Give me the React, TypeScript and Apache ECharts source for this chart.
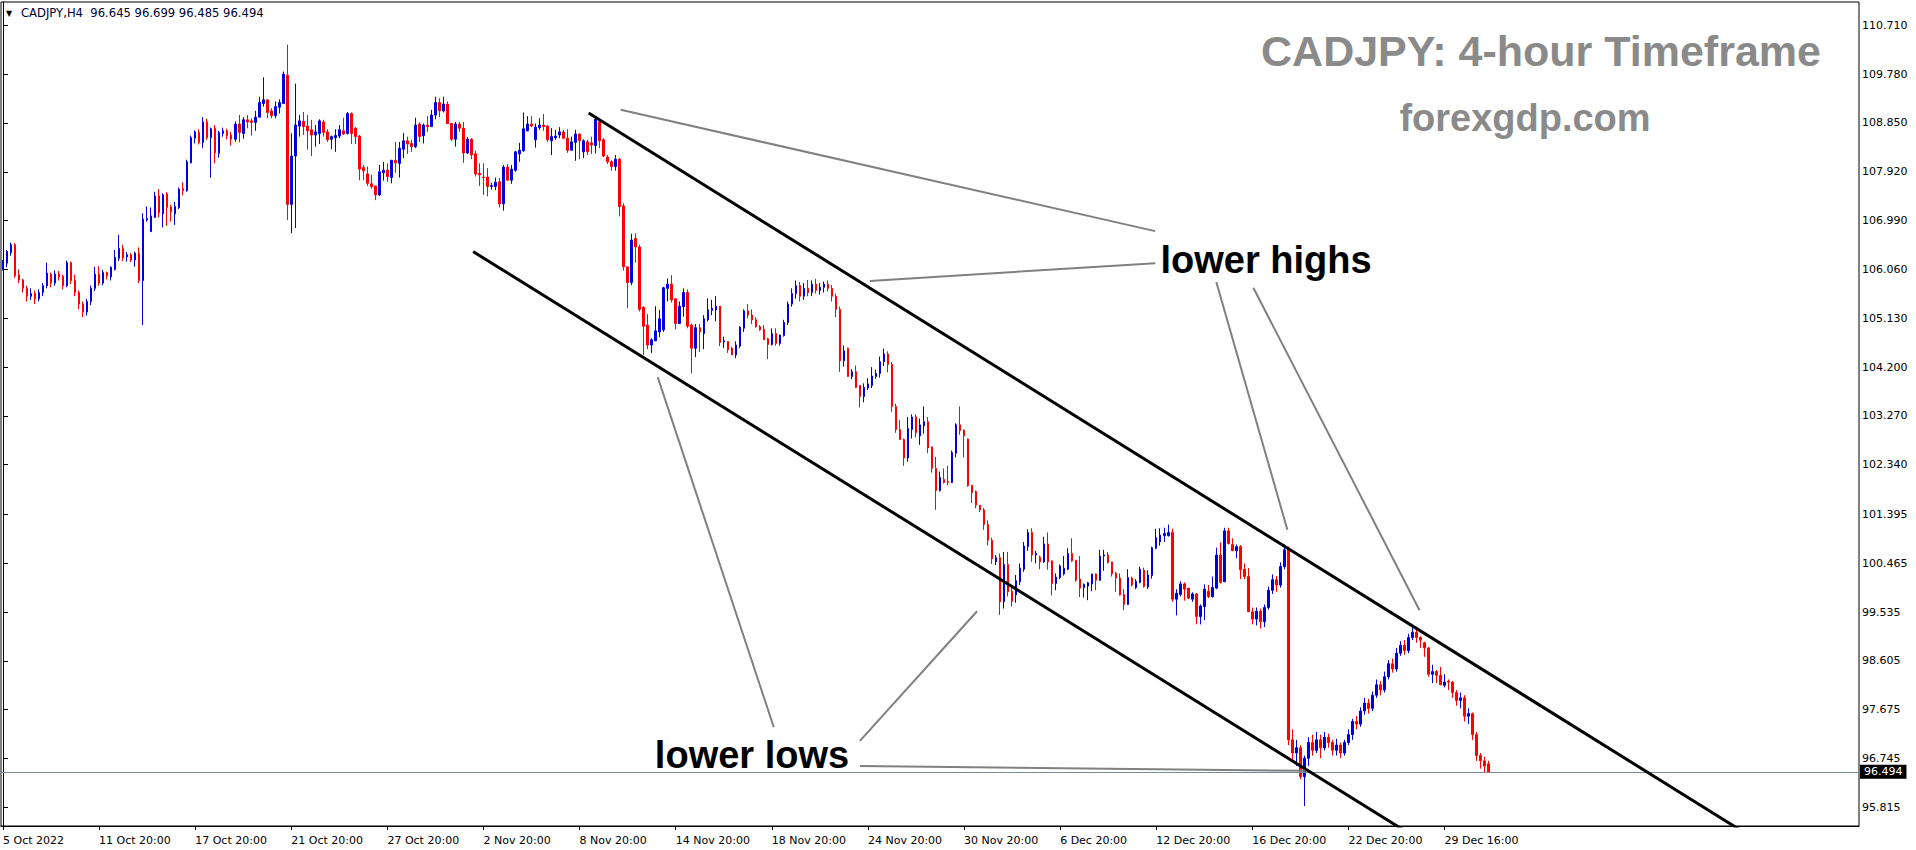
import React, { useEffect, useRef } from "react";
import * as echarts from "echarts";

// ---------- data ----------
const xTickLabels = [
  "5 Oct 2022", "11 Oct 20:00", "17 Oct 20:00", "21 Oct 20:00", "27 Oct 20:00",
  "2 Nov 20:00", "8 Nov 20:00", "14 Nov 20:00", "18 Nov 20:00", "24 Nov 20:00",
  "30 Nov 20:00", "6 Dec 20:00", "12 Dec 20:00", "16 Dec 20:00", "22 Dec 20:00",
  "29 Dec 16:00",
];
const barsPerLabel = 24;
const totalSlots = 464;

const yTickValues = [
  95.815, 96.745, 97.675, 98.605, 99.535, 100.465, 101.395, 102.34, 103.27,
  104.2, 105.13, 106.06, 106.99, 107.92, 108.85, 109.78, 110.71,
];

// [open, close, low, high]
const ohlc: number[][] = [
  [106.06,106.21,106.04,106.24],[106.18,106.40,106.10,106.43],[106.38,106.53,106.32,106.57],[106.53,105.94,105.90,106.56],
  [105.96,105.86,105.80,106.06],[105.86,105.70,105.62,105.88],[105.70,105.55,105.45,105.75],[105.55,105.60,105.48,105.70],
  [105.60,105.50,105.40,105.66],[105.50,105.62,105.45,105.68],[105.62,105.75,105.55,105.80],[105.75,105.99,105.70,106.19],
  [105.97,105.80,105.72,106.00],[105.80,105.97,105.75,106.04],[105.97,105.92,105.85,106.03],[105.93,105.75,105.68,105.96],
  [105.75,106.19,105.72,106.23],[106.19,105.85,105.78,106.21],[105.85,105.62,105.55,105.96],[105.62,105.40,105.30,105.66],
  [105.40,105.25,105.15,105.45],[105.25,105.45,105.18,105.50],[105.45,105.70,105.38,105.75],[105.70,105.97,105.65,106.11],
  [105.97,105.80,105.75,106.12],[105.80,106.00,105.76,106.05],[106.00,105.94,105.87,106.02],[105.92,106.10,105.85,106.12],
  [106.06,106.29,106.04,106.43],[106.27,106.46,106.22,106.72],[106.46,106.28,106.22,106.53],[106.30,106.34,106.21,106.39],
  [106.34,106.24,106.20,106.37],[106.24,106.37,106.11,106.40],[106.37,105.85,105.80,106.48],[105.85,107.02,105.00,107.13],
  [107.00,107.03,106.97,107.26],[106.78,107.08,106.78,107.24],[107.05,107.46,107.05,107.54],[107.46,107.14,107.05,107.59],
  [107.12,107.48,106.86,107.51],[107.50,107.24,106.89,107.53],[107.25,107.16,106.97,107.29],[107.12,107.26,106.91,107.35],
  [107.24,107.59,107.21,107.62],[107.60,107.56,107.47,107.72],[107.56,108.11,107.54,108.15],[108.09,108.57,108.08,108.61],
  [108.56,108.68,108.46,108.71],[108.67,108.48,108.44,108.73],[108.48,108.87,108.37,108.96],[108.87,108.57,108.53,108.93],
  [108.57,108.74,107.81,108.76],[108.75,108.28,108.08,108.81],[108.27,108.67,108.19,108.70],[108.65,108.70,108.59,108.76],
  [108.70,108.61,108.54,108.74],[108.62,108.54,108.42,108.68],[108.54,108.83,108.49,108.88],[108.83,108.67,108.48,109.00],
  [108.65,108.91,108.55,108.96],[108.91,108.87,108.75,109.00],[108.89,108.86,108.61,108.94],[108.86,108.96,108.70,109.08],
  [108.96,109.24,108.96,109.35],[109.22,109.29,109.16,109.72],[109.29,109.05,108.94,109.29],[109.08,108.99,108.94,109.13],
  [108.99,109.16,108.94,109.26],[109.15,109.24,109.03,109.30],[109.22,109.78,109.21,109.83],[109.76,107.30,107.00,110.34],
  [107.30,108.22,106.75,108.65],[108.22,108.81,106.85,109.60],[108.79,108.89,108.59,109.00],[108.88,108.78,108.62,109.06],
  [108.79,108.70,108.34,109.00],[108.72,108.62,108.22,108.91],[108.62,108.68,108.40,108.81],[108.65,108.89,108.45,108.92],
  [108.87,108.67,108.59,108.91],[108.68,108.53,108.49,108.73],[108.54,108.59,108.35,108.61],[108.57,108.61,108.30,108.73],
  [108.60,108.72,108.56,108.81],[108.70,108.64,108.62,108.95],[108.65,109.03,108.63,109.06],[109.03,108.65,108.45,109.05],
  [108.75,108.59,108.45,108.77],[108.60,107.97,107.76,108.62],[108.00,107.94,107.76,108.05],[107.88,107.70,107.65,108.02],
  [107.69,107.64,107.60,107.86],[107.65,107.48,107.38,107.65],[107.48,107.92,107.46,108.05],[107.90,107.95,107.75,108.11],
  [107.95,107.83,107.73,108.08],[107.81,108.14,107.70,108.14],[108.14,108.09,107.90,108.49],[108.08,108.37,107.81,108.49],
  [108.35,108.51,108.18,108.66],[108.51,108.45,108.26,108.59],[108.46,108.40,108.30,108.53],[108.40,108.81,108.37,108.95],
  [108.83,108.59,108.49,108.86],[108.61,108.81,108.46,108.84],[108.81,108.78,108.68,108.98],[108.78,109.00,108.78,109.10],
  [109.00,109.24,108.92,109.35],[109.24,109.08,108.96,109.32],[109.08,109.21,109.05,109.35],[109.21,108.84,108.84,109.26],
  [108.84,108.54,108.51,108.84],[108.54,108.83,108.40,108.87],[108.83,108.75,108.68,108.87],[108.75,108.28,108.09,108.87],
  [108.28,108.54,108.26,108.58],[108.54,108.24,108.16,108.56],[108.26,107.88,107.83,108.32],[107.89,107.86,107.65,108.08],
  [107.82,107.81,107.48,108.08],[107.82,107.64,107.45,107.99],[107.64,107.66,107.58,107.71],[107.64,107.72,107.57,107.81],
  [107.73,107.31,107.24,107.80],[107.31,108.01,107.18,108.05],[108.01,107.76,107.76,108.07],[107.76,107.97,107.69,108.05],
  [107.95,108.30,107.92,108.32],[108.26,108.33,108.11,108.47],[108.32,108.74,108.30,109.05],[108.70,108.83,108.69,108.98],
  [108.83,108.79,108.77,108.98],[108.53,108.77,108.38,108.84],[108.76,108.81,108.72,108.94],[108.81,108.78,108.70,109.02],
  [108.79,108.53,108.49,108.81],[108.51,108.59,108.24,108.75],[108.57,108.60,108.53,108.72],[108.62,108.68,108.56,108.77],
  [108.68,108.56,108.54,108.72],[108.56,108.33,108.28,108.73],[108.33,108.49,108.33,108.59],[108.48,108.64,108.13,108.72],
  [108.64,108.51,108.16,108.64],[108.30,108.51,108.18,108.54],[108.49,108.30,108.24,108.53],[108.47,108.43,108.26,108.59],
  [108.42,108.92,108.27,108.97],[108.87,108.51,108.37,108.89],[108.53,108.22,108.20,108.56],[108.20,108.11,108.07,108.24],
  [108.11,108.02,107.94,108.14],[108.02,108.16,107.94,108.24],[108.16,107.26,107.07,108.18],[107.27,106.11,106.04,107.32],
  [106.11,105.81,105.32,106.11],[105.81,106.62,105.76,106.74],[106.65,106.49,106.19,106.75],[106.49,105.30,105.26,106.53],
  [105.34,104.98,104.43,105.36],[105.00,104.62,104.54,105.21],[104.62,104.72,104.47,104.75],[104.70,104.89,104.70,105.36],
  [104.87,105.12,104.77,105.29],[104.91,105.71,104.87,105.73],[105.70,105.78,105.45,105.89],[105.78,105.48,105.43,105.95],
  [105.50,105.03,104.92,105.51],[105.03,105.36,105.03,105.45],[105.35,105.62,105.16,105.70],[105.62,104.98,104.94,105.68],
  [105.00,104.56,104.08,105.03],[104.56,104.95,104.39,105.02],[104.95,104.87,104.49,105.02],[104.84,105.12,104.54,105.19],
  [105.10,105.29,105.07,105.51],[105.28,105.32,105.19,105.48],[105.29,105.36,105.07,105.55],[105.36,104.67,104.60,105.36],
  [104.68,104.70,104.56,104.78],[104.69,104.53,104.47,104.69],[104.56,104.43,104.43,104.59],[104.43,104.62,104.37,104.69],
  [104.60,104.96,104.56,104.98],[104.94,105.27,104.87,105.30],[105.27,105.19,105.13,105.40],[105.19,105.10,105.02,105.30],
  [105.10,104.97,104.95,105.15],[104.97,104.91,104.89,105.00],[104.92,104.72,104.72,105.00],[104.74,104.63,104.35,104.76],
  [104.63,104.84,104.61,104.94],[104.84,104.65,104.61,104.94],[104.65,104.81,104.61,104.82],[104.80,105.05,104.78,105.10],
  [105.05,105.40,105.00,105.45],[105.40,105.60,105.35,105.70],[105.60,105.75,105.50,105.85],[105.75,105.55,105.45,105.82],
  [105.55,105.70,105.48,105.80],[105.70,105.62,105.55,105.86],[105.62,105.78,105.55,105.85],[105.78,105.66,105.60,105.88],
  [105.66,105.72,105.58,105.80],[105.72,105.78,105.62,105.83],[105.78,105.70,105.64,105.85],[105.70,105.55,105.45,105.76],
  [105.55,105.30,105.15,105.60],[105.30,104.32,104.11,105.35],[104.32,104.51,104.21,104.61],[104.56,104.02,104.02,104.57],
  [104.02,104.11,103.97,104.16],[104.11,103.81,103.80,104.23],[103.85,103.64,103.43,103.86],[103.64,103.81,103.53,103.89],
  [103.80,103.88,103.76,103.99],[103.85,104.03,103.80,104.20],[104.02,104.08,103.98,104.15],[104.08,104.30,104.00,104.40],
  [104.30,104.45,104.22,104.55],[104.45,104.25,104.10,104.50],[104.25,103.45,103.35,104.30],[103.45,103.01,102.95,103.50],
  [103.01,102.82,102.81,103.19],[102.82,102.47,102.32,102.84],[102.47,103.03,102.40,103.25],[103.01,103.25,102.84,103.30],
  [103.25,102.95,102.86,103.30],[102.89,103.10,102.72,103.22],[103.08,103.16,102.93,103.45],[103.16,102.66,102.56,103.25],
  [102.68,102.27,102.19,102.68],[102.27,101.85,101.48,102.49],[101.85,102.10,101.83,102.21],[102.06,102.00,101.98,102.27],
  [102.02,102.00,101.95,102.32],[102.00,102.57,101.99,102.61],[102.56,103.10,102.48,103.13],[103.10,102.99,102.91,103.45],
  [103.00,102.89,102.48,103.01],[102.83,101.94,101.92,102.84],[101.95,101.81,101.61,101.95],[101.83,101.57,101.51,101.85],
  [101.57,101.48,101.44,101.57],[101.48,101.20,101.10,101.52],[101.20,100.90,100.80,101.28],[100.90,100.55,100.45,100.95],
  [100.49,100.57,100.43,100.62],[100.57,99.73,99.48,100.65],[99.73,100.44,99.60,100.68],[100.44,99.92,99.83,100.68],
  [99.93,99.74,99.64,100.05],[99.86,100.13,99.71,100.24],[100.11,100.37,100.05,100.46],[100.35,100.79,100.30,100.87],
  [100.78,101.05,100.70,101.11],[101.05,100.62,100.49,101.13],[100.62,100.65,100.46,100.70],[100.58,100.49,100.35,100.61],
  [100.49,100.83,100.47,100.97],[100.83,100.49,100.34,101.05],[100.51,100.08,99.85,100.51],[100.08,100.20,99.95,100.27],
  [100.19,100.41,100.16,100.44],[100.26,100.37,100.23,100.60],[100.35,100.65,100.33,100.75],[100.65,100.51,100.49,100.94],
  [100.52,100.14,100.11,100.52],[100.16,99.99,99.82,100.60],[100.00,100.06,99.81,100.08],[100.03,100.09,99.76,100.11],
  [100.07,100.26,99.93,100.26],[100.26,100.14,99.95,100.27],[100.14,100.60,100.13,100.72],[100.60,100.62,100.32,100.72],
  [100.62,100.48,100.46,100.68],[100.49,100.26,100.21,100.49],[100.27,100.18,99.92,100.30],[100.18,99.86,99.85,100.27],
  [99.87,99.68,99.57,99.97],[99.68,100.19,99.67,100.35],[100.18,100.05,100.02,100.21],[100.00,100.12,99.97,100.16],
  [100.10,100.35,100.08,100.40],[100.33,100.02,100.00,100.38],[100.01,100.24,99.97,100.33],[100.23,100.76,100.17,100.78],
  [100.75,100.95,100.73,101.12],[100.87,101.00,100.80,101.13],[100.99,101.03,100.87,101.14],[100.99,101.05,100.97,101.20],
  [101.05,99.78,99.73,101.12],[99.78,99.89,99.47,99.97],[99.87,100.07,99.83,100.12],[100.07,99.97,99.75,100.10],
  [99.99,99.80,99.78,99.99],[99.78,99.88,99.73,99.91],[99.88,99.45,99.30,99.89],[99.45,99.65,99.30,99.68],
  [99.64,99.97,99.38,100.06],[99.93,99.83,99.80,100.05],[99.83,100.00,99.81,100.21],[99.99,100.62,99.97,100.76],
  [100.62,100.10,100.08,100.86],[100.11,101.08,100.11,101.14],[101.08,100.84,100.82,101.14],[100.82,100.70,100.70,100.94],
  [100.70,100.78,100.56,100.82],[100.78,100.34,100.16,100.81],[100.35,100.21,100.16,100.46],[100.21,99.54,99.54,100.37],
  [99.54,99.40,99.30,99.62],[99.40,99.55,99.28,99.62],[99.55,99.35,99.22,99.60],[99.35,99.62,99.25,99.68],
  [99.62,99.95,99.58,100.02],[99.95,100.15,99.88,100.25],[100.15,100.05,99.92,100.22],[100.05,100.40,100.00,100.48],
  [100.40,100.72,100.35,100.82],[100.72,97.10,97.00,100.78],[97.10,96.85,96.70,97.30],[96.85,96.95,96.60,97.10],
  [96.95,96.40,96.35,97.00],[96.40,96.75,95.84,96.80],[96.75,97.05,96.60,97.15],[97.05,96.90,96.80,97.20],
  [96.90,97.10,96.85,97.25],[97.10,96.95,96.75,97.20],[96.95,97.15,96.90,97.25],[97.15,97.05,96.95,97.22],
  [97.05,96.90,96.80,97.10],[96.90,97.00,96.80,97.12],[97.00,96.85,96.75,97.05],[96.85,97.05,96.80,97.10],
  [97.05,97.20,97.00,97.30],[97.20,97.45,97.10,97.50],[97.45,97.40,97.30,97.55],[97.40,97.65,97.35,97.72],
  [97.65,97.80,97.58,97.90],[97.80,97.70,97.60,97.88],[97.70,97.95,97.65,98.02],[97.95,98.15,97.90,98.25],
  [98.15,98.05,97.95,98.22],[98.05,98.30,98.00,98.40],[98.30,98.55,98.25,98.62],[98.55,98.45,98.38,98.65],
  [98.45,98.75,98.40,98.85],[98.75,98.90,98.70,98.98],[98.90,98.80,98.72,99.00],[98.80,99.05,98.75,99.12],
  [99.05,99.15,99.00,99.25],[99.15,99.05,98.95,99.20],[99.05,99.00,98.85,99.07],[98.95,98.85,98.68,98.97],
  [98.85,98.35,98.30,98.87],[98.35,98.40,98.18,98.53],[98.40,98.33,98.18,98.43],[98.33,98.15,98.14,98.49],
  [98.14,98.20,98.10,98.35],[98.22,98.20,98.05,98.25],[98.20,98.00,97.90,98.22],[98.00,97.85,97.75,98.05],
  [97.85,97.90,97.70,98.00],[97.90,97.55,97.45,97.95],[97.55,97.60,97.40,97.70],[97.60,97.20,97.10,97.62],
  [97.20,96.80,96.70,97.25],[96.80,96.70,96.55,96.85],[96.70,96.60,96.48,96.78],[96.645,96.494,96.485,96.699],
];

const lastPrice = 96.494;
const headerText = "CADJPY,H4  96.645 96.699 96.485 96.494";

// drawn lines, in [bar index, price]
const upperChannel = [[146.25, 109.04], [460, 94.14]];
const lowerChannel = [[117.4, 106.4], [400, 93.0]];
const pointerLines = [
  [[154.25, 109.1], [287.75, 106.79]],
  [[216.5, 105.84], [287.75, 106.18]],
  [[303, 105.82], [320.75, 101.1]],
  [[312.25, 105.71], [353.75, 99.57]],
  [[163.5, 104.01], [192.5, 97.34]],
  [[214, 97.08], [243.25, 99.55]],
  [[214, 96.6], [325.25, 96.51]],
];

const yMin = 95.459;
const yMax = 111.154;

export default function App() {
  const ref = useRef<HTMLDivElement>(null);

  useEffect(() => {
    if (!ref.current) return;
    const chart = echarts.init(ref.current, null, { renderer: "svg" });
    const font = "DejaVu Sans";
    const categories = Array.from({ length: totalSlots }, (_, i) => String(i));
    const isLabelIdx = (i: number) => i % barsPerLabel === 0 && i / barsPerLabel < xTickLabels.length;

    const lineSeries = (pts: number[][], color: string, width: number) => ({
      type: "line",
      xAxisIndex: 1,
      yAxisIndex: 0,
      data: pts,
      symbol: "none",
      silent: true,
      clip: true,
      lineStyle: { color, width },
      z: 5,
    });

    const option: any = {
      animation: false,
      backgroundColor: "#ffffff",
      textStyle: { fontFamily: font },
      grid: { left: 1, top: 2, width: 1858, height: 824, show: true, borderColor: "#000", borderWidth: 1, backgroundColor: "#fff" },
      xAxis: [
        {
          type: "category",
          data: categories,
          boundaryGap: true,
          axisLine: { show: true, lineStyle: { color: "#000", width: 1 } },
          axisTick: { show: true, alignWithLabel: true, interval: (i: number) => isLabelIdx(i), length: 4, lineStyle: { color: "#000" } },
          axisLabel: {
            show: true,
            interval: (i: number) => isLabelIdx(i),
            formatter: (_v: string, i: number) => xTickLabels[i / barsPerLabel] ?? "",
            align: "left",
            margin: 9,
            color: "#000",
            fontSize: 11,
            fontFamily: font,
          },
          splitLine: { show: false },
        },
        { type: "value", min: -0.5, max: totalSlots - 0.5, show: false },
      ],
      yAxis: {
        type: "value",
        position: "right",
        min: yMin,
        max: yMax,
        axisLine: { show: true, lineStyle: { color: "#000", width: 1 } },
        axisTick: { show: true, customValues: yTickValues, length: 5, lineStyle: { color: "#000" } },
        axisLabel: {
          show: true,
          customValues: yTickValues,
          formatter: (v: number) => v.toFixed(3),
          color: "#000",
          fontSize: 11,
          fontFamily: font,
          margin: 3,
        },
        splitLine: { show: false },
      },
      series: [
        {
          type: "candlestick",
          data: ohlc,
          barWidth: 2,
          silent: true,
          itemStyle: { color: "#0000dd", color0: "#ff0000", borderColor: "#0000dd", borderColor0: "#ff0000", borderWidth: 1 },
          markLine: {
            silent: true,
            symbol: "none",
            animation: false,
            lineStyle: { color: "#7a8a9a", width: 1, type: "solid" },
            label: {
              show: true,
              position: "end",
              distance: 1,
              formatter: () => lastPrice.toFixed(3),
              color: "#fff",
              backgroundColor: "#000",
              padding: [2, 4, 1, 4],
              fontSize: 11,
              fontFamily: font,
            },
            data: [{ yAxis: lastPrice }],
          },
          z: 3,
        },
        lineSeries(upperChannel, "#000", 3),
        lineSeries(lowerChannel, "#000", 3),
        ...pointerLines.map((p) => lineSeries(p, "#808080", 2)),
      ],
      graphic: [
        { type: "text", x: 6, y: 13, style: { text: "▼", fill: "#000", fontSize: 8, fontFamily: font, verticalAlign: "middle" } },
        { type: "text", x: 21, y: 13, style: { text: headerText, fill: "#000033", fontSize: 11.6, fontFamily: font, verticalAlign: "middle" } },
        { type: "text", x: 1541, y: 51, style: { text: "CADJPY: 4-hour Timeframe", fill: "#8a8a8a", fontSize: 43, fontWeight: "bold", fontFamily: "Liberation Sans", align: "center", verticalAlign: "middle" } },
        { type: "text", x: 1525, y: 118, style: { text: "forexgdp.com", fill: "#8a8a8a", fontSize: 38, fontWeight: "bold", fontFamily: "Liberation Sans", align: "center", verticalAlign: "middle" } },
        { type: "text", x: 1266, y: 260, style: { text: "lower highs", fill: "#000", fontSize: 38, fontWeight: "bold", fontFamily: "Liberation Sans", align: "center", verticalAlign: "middle" } },
        { type: "text", x: 752, y: 755, style: { text: "lower lows", fill: "#000", fontSize: 38, fontWeight: "bold", fontFamily: "Liberation Sans", align: "center", verticalAlign: "middle" } },
      ],
    };
    chart.setOption(option);
    return () => chart.dispose();
  }, []);

  return (
    <div
      ref={ref}
      style={{ position: "fixed", left: 0, top: 0, width: 1916, height: 850, background: "#fff" }}
    />
  );
}
